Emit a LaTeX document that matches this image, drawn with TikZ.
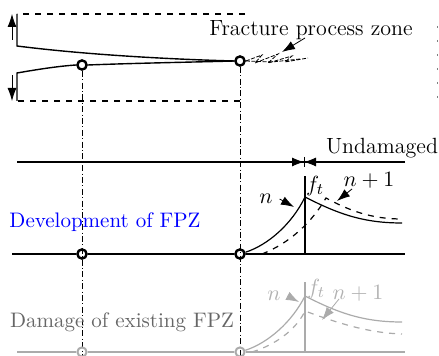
\documentclass[tikz,border=0pt]{standalone}
\usepackage{amsmath,amssymb}
\usepackage{xcolor}
\usetikzlibrary{arrows.meta}

\begin{document}
\begin{tikzpicture}[x=0.5pt,y=-0.5pt,every node/.style={font=\fontsize{11}{13}\selectfont},
  hole/.style={circle,draw,line width=1.2pt,inner sep=0pt,minimum size=4.6pt},
  dashdot/.style={line width=0.5pt,dash pattern=on 3pt off 1.2pt on 0.5pt off 1.2pt},
  tip/.style={-{Latex[length=6.5pt,width=4.5pt]}},
  faint/.style={black!32}]
\useasboundingbox (0,0) rectangle (439,356);
\coordinate (tl) at (17,14);
\coordinate (bl) at (17,101);
\coordinate (tr) at (245,14);
\coordinate (br) at (240,101);
\coordinate (ut) at (17,46);
\coordinate (lt) at (17,73);
\node[hole] (h1) at (82,65) {};
\node[hole] (h2) at (240,61) {};
\draw[dashed,line width=0.6pt] (tr) -- (tl);
\draw[dashed,line width=0.6pt] (br) -- (bl);
\draw[line width=0.7pt] (tl) -- (ut) .. controls (80,54) and (160,59) .. (h2.west);
\draw[line width=0.7pt] (bl) -- (lt) .. controls (40,69) and (60,66) .. (h1.west);
\draw[line width=0.7pt] (h1.east) .. controls (140,63) and (200,62) .. (h2.west);
\draw[tip] (12,40) -- (12,14);
\draw[tip] (12,75) -- (12,101);
\draw[dashed,line width=0.4pt,dash pattern=on 2pt off 0.8pt] (h2.east) -- (262,55) -- (255,63) -- (278,54) -- (268,63) -- (292,56) -- (285,62) -- (308,58);
\draw[dashed,line width=0.4pt,dash pattern=on 2pt off 0.8pt] (h2.east) -- (272,62) -- (300,59);
\node (fpz) at (311,30) {Fracture process zone};
\draw[tip] (305,38) -- (282,52);
\draw[black!50,line width=0.4pt,dash pattern=on 1pt off 6pt] (437,26) -- (437,106);
\draw[dashdot] (h1.south) -- (82,356);
\draw[dashdot] (h2.south) -- (240,356);
\coordinate (bd) at (304,162);
\draw[line width=0.6pt] (17,162) -- (bd);
\draw[line width=0.6pt] (405,162) -- (bd);
\draw[-{Latex[length=6pt,width=4.5pt]}] (290,162) -- (bd);
\draw[-{Latex[length=6pt,width=4.5pt]}] (318,162) -- (bd);
\draw[line width=0.5pt] (304,157) -- (304,167);
\node[anchor=west] (und) at (319,148) {Undamaged};
\node[hole] (d1) at (82,254) {};
\node[hole] (d2) at (240,254) {};
\draw[line width=0.6pt] (12,254) -- (d1.west);
\draw[line width=0.6pt] (d1.east) -- (d2.west);
\draw[line width=0.6pt] (d2.east) -- (405,254);
\draw[line width=0.6pt] (305,254) -- (305,176);
\coordinate (pn) at (305,197);
\coordinate (pm) at (326,198);
\draw[line width=0.6pt] (d2) .. controls (268,245) and (292,224) .. (pn) .. controls (340,215) and (365,223) .. (402,223);
\draw[dashed,line width=0.6pt] (262,254) .. controls (290,243) and (312,222) .. (pm) .. controls (350,211) and (372,219) .. (402,219);
\node[text=blue,font=\fontsize{10.5}{12}\selectfont] (dev) at (105,222) {Development of FPZ};
\node (n1) at (266,199) {$n$};
\draw[tip] (n1.east) -- (294,207);
\node (f1) at (315,186) {$f_t$};
\node (m1) at (369,180) {$n+1$};
\draw[tip] (352,189) -- (337,201);
\begin{scope}[black!33]
\node[draw,circle,line width=1pt,inner sep=0pt,minimum size=4.6pt] (g1) at (82,352) {};
\node[draw,circle,line width=1pt,inner sep=0pt,minimum size=4.6pt] (g2) at (240,352) {};
\draw[line width=0.6pt] (17,352) -- (g1.west);
\draw[line width=0.6pt] (g1.east) -- (g2.west);
\draw[line width=0.6pt] (g2.east) -- (405,352);
\draw[line width=0.6pt] (305,352) -- (305,282);
\coordinate (qn) at (305,296);
\coordinate (qm) at (305,311);
\draw[line width=0.6pt] (g2) .. controls (268,343) and (292,322) .. (qn) .. controls (340,314) and (365,322) .. (402,322);
\draw[dashed,line width=0.6pt] (252,352) .. controls (275,345) and (296,330) .. (qm) .. controls (340,324) and (370,333) .. (402,334);
\node[text=black!30] (n2) at (274,296) {$n$};
\draw[tip] (n2.east) -- (299,302);
\node[text=black!30] (f2) at (316,289) {$f_t$};
\node[text=black!30] (m2) at (358,293) {$n+1$};
\draw[tip] (339,299) -- (322,320);
\end{scope}
\node[text=black!60,font=\fontsize{10.5}{12}\selectfont] (dmg) at (122,322) {Damage of existing FPZ};
\end{tikzpicture}
\end{document}
